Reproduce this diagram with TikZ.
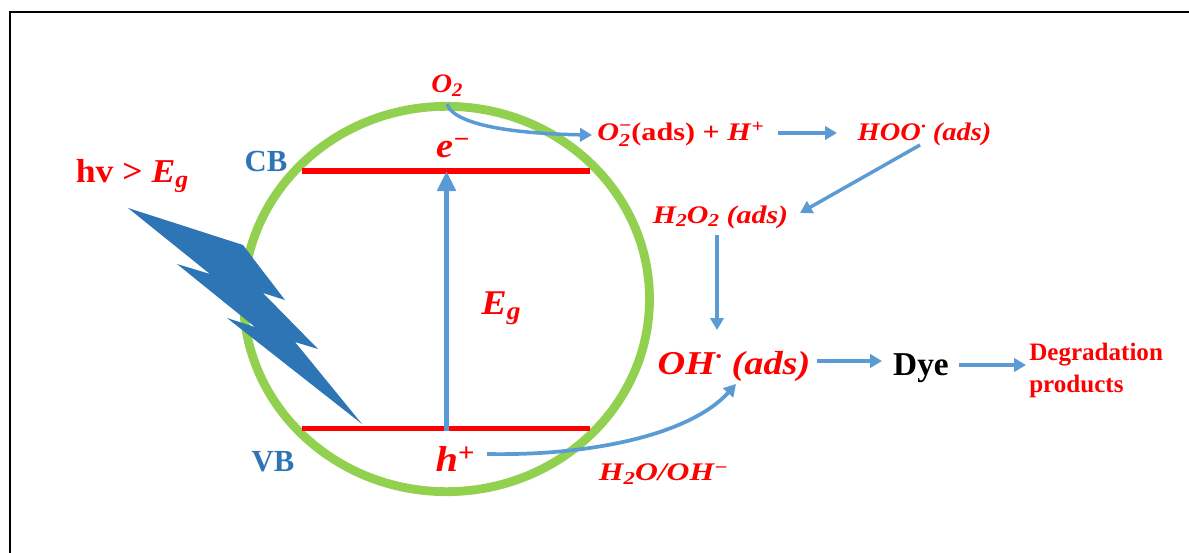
\documentclass[tikz,border=0pt]{standalone}
\usepackage{fontspec}
\setmainfont{Liberation Serif}
\usetikzlibrary{arrows.meta,shapes.geometric}
\definecolor{arrowblue}{HTML}{5B9BD5}
\definecolor{labelblue}{HTML}{2E75B6}
\definecolor{boltblue}{HTML}{2E75B6}
\definecolor{ringgreen}{HTML}{92D050}
\newcommand{\bi}[1]{\textbf{\textit{#1}}}
\newcommand{\subs}[1]{\raisebox{-0.32ex}{\scalebox{0.72}{#1}}}
\newcommand{\sups}[1]{\raisebox{0.62ex}{\scalebox{0.72}{#1}}}
\newcommand{\wide}[2]{\scalebox{#1}[1]{#2}}
\tikzset{
  redlabel/.style={text=red,font=\bfseries\itshape,inner sep=0pt,anchor=center},
  bluelabel/.style={text=labelblue,font=\bfseries,inner sep=0pt},
  flow/.style={draw=arrowblue,line width=2.8pt,-{Triangle[width=10pt,length=9pt]}},
  flowthin/.style={draw=arrowblue,line width=2.6pt,-{Triangle[width=10pt,length=9pt]}},
  bandline/.style={draw=red,line width=4.4pt},
}
\begin{document}
\begin{tikzpicture}[x=0.75pt,y=-0.75pt]
\useasboundingbox (0,0) rectangle (1189,553);
\fill[white] (0,0) rectangle (1189,553);
% frame
\draw[black,line width=1.5pt] (9.5,553) -- (9.5,11.5) -- (1189,11.5);
% ring
\node[draw=ringgreen,line width=6.6pt,ellipse,minimum width=304.5pt,minimum height=289pt,inner sep=0pt] (ring) at (446.5,299) {};
% bands
\coordinate (cbl) at (302,171); \coordinate (cbr) at (590,171);
\coordinate (vbl) at (302,428.5); \coordinate (vbr) at (590,428.5);
\draw[bandline] (cbl) -- (cbr);
\draw[bandline] (vbl) -- (vbr);
% bolt
\fill[boltblue] (128,208) -- (243,245) -- (252,257) -- (285,300) -- (263,293) -- (318,349) -- (295,342) -- (362,424) -- (227,318) -- (255,327) -- (177,264) -- (210,274) -- cycle;
% labels
\node[redlabel,font=\bfseries\itshape\fontsize{20}{22}\selectfont] (o2) at (447,86) {\wide{1.08}{O\subs{2}}};
\node[redlabel,font=\bfseries\itshape\fontsize{26}{28}\selectfont] (em) at (453,148) {\wide{1.1}{e\sups{−}}};
\node[redlabel,font=\bfseries\fontsize{19}{20}\selectfont,anchor=west] (o2ads) at (597,134) {\wide{1.19}{\bi{O}\raisebox{0pt}[0pt][0pt]{\rlap{\raisebox{-0.55ex}{\scalebox{0.72}{\bi{2}}}}\raisebox{0.75ex}{\scalebox{0.72}{−}}}(ads) + \bi{H}\sups{+}}};
\node[redlabel,font=\bfseries\itshape\fontsize{19}{20}\selectfont] (hoo) at (924.5,134) {\wide{1.12}{HOO\sups{·} (ads)}};
\node[redlabel,font=\bfseries\itshape\fontsize{19}{20}\selectfont] (h2o2) at (720.5,217) {\wide{1.18}{H\subs{2}O\subs{2} (ads)}};
\node[redlabel,font=\bfseries\itshape\fontsize{26}{28}\selectfont] (eg) at (501,308) {\wide{1.1}{E\subs{g}}};
\node[redlabel,font=\bfseries\itshape\fontsize{25}{26}\selectfont] (oh) at (734,366) {\wide{1.15}{OH\sups{·} (ads)}};
\node[inner sep=0pt,font=\bfseries\fontsize{25}{26}\selectfont] (dye) at (921,368) {Dye};
\node[redlabel,font=\bfseries\fontsize{18.8}{24}\selectfont,anchor=north west,align=left] (deg) at (1029,343) {Degradation\\products};
\node[redlabel,font=\bfseries\itshape\fontsize{27}{28}\selectfont] (hp) at (455,459) {\wide{1.12}{h\sups{+}}};
\node[redlabel,font=\bfseries\itshape\fontsize{19}{20}\selectfont] (water) at (663.5,474) {\wide{1.25}{H\subs{2}O/OH\sups{−}}};
\node[bluelabel,font=\bfseries\fontsize{23}{26}\selectfont] (cb) at (266,161) {CB};
\node[bluelabel,font=\bfseries\fontsize{23}{26}\selectfont] (vb) at (273,462) {VB};
\node[redlabel,font=\bfseries\fontsize{25}{26}\selectfont] (hv) at (132,176) {\wide{1.07}{hv > \bi{E}\subs{\bi{g}}}};
% band gap arrow
\coordinate (gapbot) at (446.5,431); \coordinate (gaptop) at (446.5,171);
\draw[draw=arrowblue,line width=4.2pt,-{Triangle[width=13.5pt,length=15pt]}] (gapbot) -- (gaptop);
% connectors
\coordinate (c1s) at (447,104); \coordinate (c1e) at (592,135);
\draw[flowthin] (c1s) .. controls (455,128) and (530,134) .. (c1e);
\coordinate (c2s) at (778,133); \coordinate (c2e) at (837,133);
\draw[flowthin] (c2s) -- (c2e);
\coordinate (c3s) at (920,145); \coordinate (c3e) at (800,213);
\draw[flowthin] (c3s) -- (c3e);
\coordinate (c4s) at (717,235); \coordinate (c4e) at (717,330);
\draw[flowthin] (c4s) -- (c4e);
\coordinate (c5s) at (817,361); \coordinate (c5e) at (882,361);
\draw[flow] (c5s) -- (c5e);
\coordinate (c6s) at (959,365); \coordinate (c6e) at (1026,365);
\draw[flow] (c6s) -- (c6e);
\coordinate (c7s) at (487,454); \coordinate (c7e) at (736,384);
\draw[flow] (c7s) .. controls (590,456) and (690,435) .. (c7e);
\end{tikzpicture}
\end{document}
